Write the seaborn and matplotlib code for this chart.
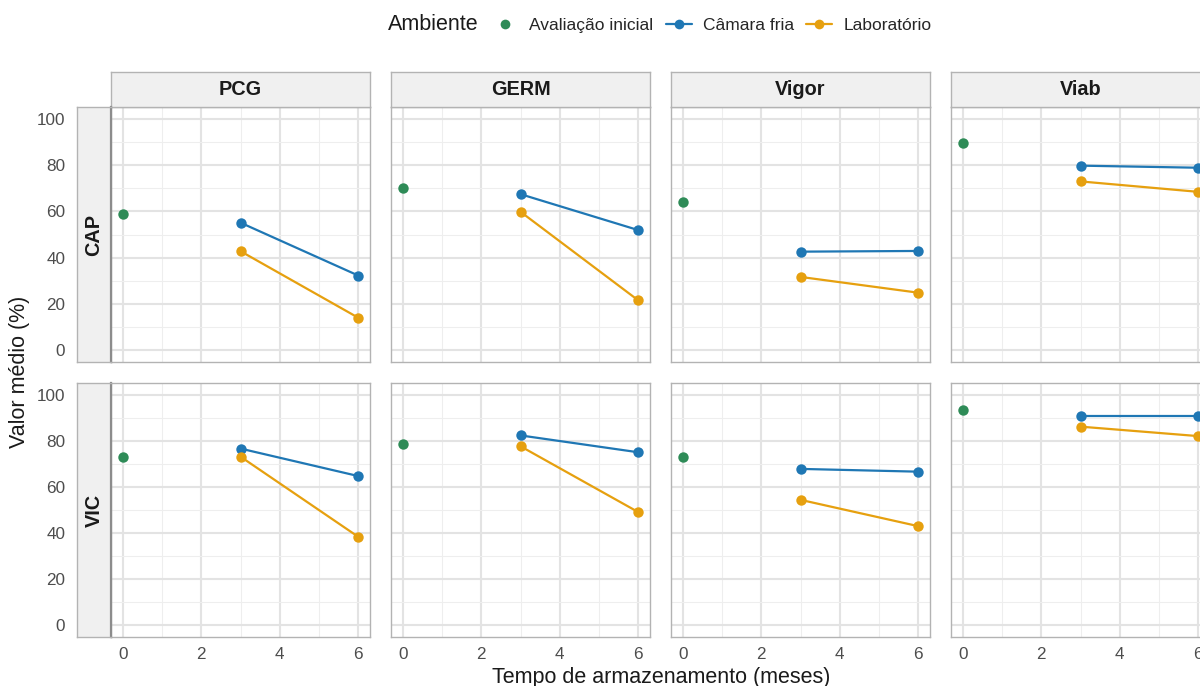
import numpy as np
import pandas as pd
import matplotlib
matplotlib.use("Agg")
import matplotlib.pyplot as plt
from matplotlib.lines import Line2D
import seaborn as sns

# ---- data ----
variaveis = ["PCG", "GERM", "Vigor", "Viab"]
locais = ["CAP", "VIC"]
ambientes = ["Avaliação inicial", "Câmara fria", "Laboratório"]
tempo_inicial = [0]
tempo_armaz = [3, 6]

inicial_cap = [58.7, 69.9, 63.9, 89.6]
inicial_vic = [73.1, 78.7, 73.1, 93.1]

camara_cap = [[55.1, 32.3], [67.4, 51.9], [42.6, 42.9], [79.7, 78.8]]
camara_vic = [[76.6, 64.7], [82.3, 75.0], [67.8, 66.6], [90.9, 90.9]]

lab_cap = [[42.8, 14.1], [59.8, 21.6], [31.7, 24.9], [72.9, 68.4]]
lab_vic = [[73.1, 38.4], [77.6, 49.1], [54.4, 43.0], [86.1, 82.0]]

cores = ["#2E8B57", "#1F77B4", "#E6A00F"]
x_ticks = [0, 2, 4, 6]
y_ticks = [0, 20, 40, 60, 80, 100]

# ---- long table ----
linhas = []
for local, ini, cam, lab in [("CAP", inicial_cap, camara_cap, lab_cap),
                             ("VIC", inicial_vic, camara_vic, lab_vic)]:
    for j, var in enumerate(variaveis):
        for t in tempo_inicial:
            linhas.append((local, var, ambientes[0], t, ini[j]))
        for k, t in enumerate(tempo_armaz):
            linhas.append((local, var, ambientes[1], t, cam[j][k]))
            linhas.append((local, var, ambientes[2], t, lab[j][k]))
df = pd.DataFrame(linhas, columns=["Local", "Variavel", "Ambiente", "Tempo", "Valor"])

# ---- figure ----
sns.set_theme(style="white")
plt.rcParams["font.family"] = ["Liberation Sans", "DejaVu Sans"]

W, H = 1200, 686
fig = plt.figure(figsize=(W / 100, H / 100), dpi=100)
fig.patch.set_facecolor("white")

def fig_rect(x0, y0, x1, y1):
    return [x0 / W, 1 - y1 / H, (x1 - x0) / W, (y1 - y0) / H]

col_left = [111, 391, 671, 951]
panel_w = 259
row_top = [107, 383]
row_bot = [362, 637]
strip_top = 72
row_strip_left = 77

palette = dict(zip(ambientes, cores))
borda = "#B3B3B3"
strip_bg = "#F0F0F0"
texto = "#1A1A1A"
tick_cor = "#4D4D4D"

for i, local in enumerate(locais):
    for j, var in enumerate(variaveis):
        x0 = col_left[j]
        ax = fig.add_axes(fig_rect(x0, row_top[i], x0 + panel_w, row_bot[i]))
        sub = df[(df.Local == local) & (df.Variavel == var)]
        sns.lineplot(data=sub, x="Tempo", y="Valor", hue="Ambiente",
                     hue_order=ambientes, palette=palette, estimator=None,
                     marker="o", markersize=7.5, markeredgewidth=0,
                     linewidth=1.6, legend=False, ax=ax, zorder=3)
        ax.set_xlim(-0.3, 6.3)
        ax.set_ylim(-5, 105)
        ax.set_xticks(x_ticks)
        ax.set_yticks(y_ticks)
        ax.set_xticks([1, 3, 5], minor=True)
        ax.set_yticks([10, 30, 50, 70, 90], minor=True)
        ax.grid(which="major", color="#E3E3E3", linewidth=1.5, zorder=0)
        ax.grid(which="minor", color="#EEEEEE", linewidth=0.8, zorder=0)
        ax.set_axisbelow(True)
        ax.set_xlabel("")
        ax.set_ylabel("")
        for s in ax.spines.values():
            s.set_color(borda)
            s.set_linewidth(1.0)
        ax.tick_params(which="both", length=0)
        ax.tick_params(axis="x", labelsize=12.3, labelcolor=tick_cor, pad=7)
        ax.tick_params(axis="y", labelsize=12.3, labelcolor=tick_cor, pad=33)
        if i == 0:
            ax.set_xticklabels([])
        if j != 0:
            ax.set_yticklabels([])

        # column strip
        if i == 0:
            sax = fig.add_axes(fig_rect(x0, strip_top, x0 + panel_w, row_top[0]))
            sax.set_facecolor(strip_bg)
            sax.set_xticks([])
            sax.set_yticks([])
            for s in sax.spines.values():
                s.set_color(borda)
                s.set_linewidth(1.0)
            sax.text(0.5, 0.5, var, ha="center", va="center",
                     fontsize=14.3, fontweight="bold", color=texto,
                     transform=sax.transAxes)

    # row strip on the left
    rax = fig.add_axes(fig_rect(row_strip_left, row_top[i], col_left[0], row_bot[i]))
    rax.set_facecolor(strip_bg)
    rax.set_xticks([])
    rax.set_yticks([])
    for s in rax.spines.values():
        s.set_color(borda)
        s.set_linewidth(1.0)
    rax.spines["right"].set_color("#8C8C8C")
    rax.spines["right"].set_linewidth(1.6)
    rax.text(0.5, 0.5, local, ha="center", va="center", rotation=90,
             fontsize=14.3, fontweight="bold", color=texto,
             transform=rax.transAxes)

# axis titles
fig.text(20 / W, 1 - 372 / H, "Valor médio (%)", rotation=90,
         ha="center", va="center", fontsize=15.5, color=texto)
fig.text(661 / W, 1 - 677 / H, "Tempo de armazenamento (meses)",
         ha="center", va="center", fontsize=15.5, color=texto)

# legend
fig.text(388 / W, 1 - 25 / H, "Ambiente", ha="left", va="center",
         fontsize=15.5, color=texto)
handles = [
    Line2D([], [], color=cores[0], marker="o", linestyle="none",
           markersize=7, markeredgewidth=0),
    Line2D([], [], color=cores[1], marker="o", linewidth=1.6,
           markersize=7, markeredgewidth=0),
    Line2D([], [], color=cores[2], marker="o", linewidth=1.6,
           markersize=7, markeredgewidth=0),
]
fig.legend(handles, ambientes, loc="center left",
           bbox_to_anchor=(492 / W, 1 - 25 / H), ncol=3, frameon=False,
           fontsize=12.5, handlelength=1.5, handletextpad=0.65,
           columnspacing=0.7, borderaxespad=0, borderpad=0)

fig.savefig("out.png", dpi=100)
